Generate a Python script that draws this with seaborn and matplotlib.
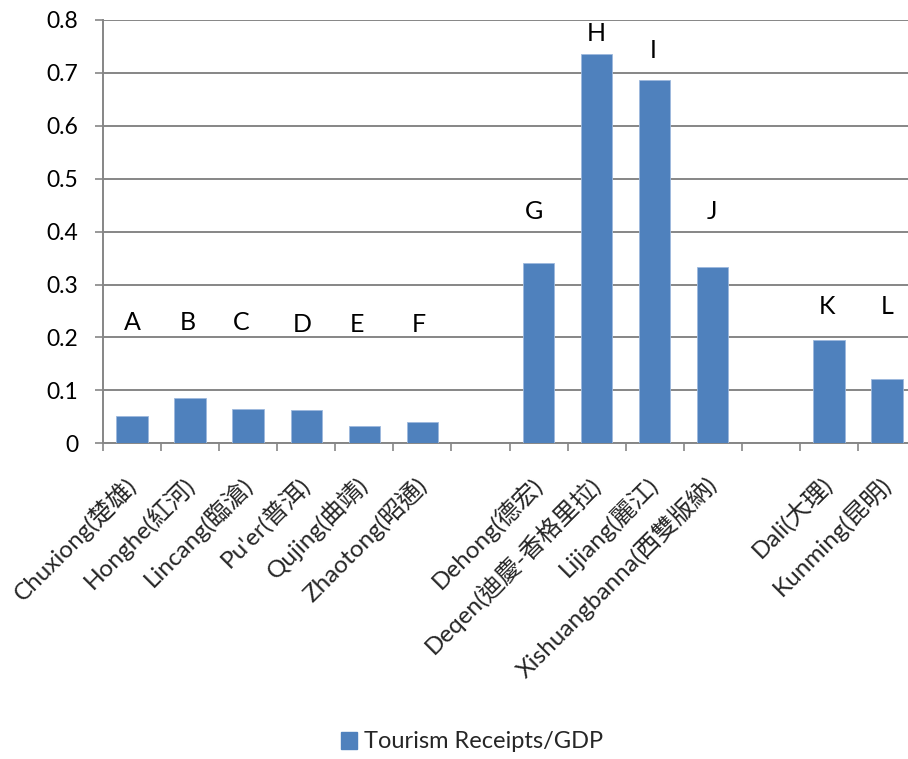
import numpy as np
import pandas as pd
import matplotlib
matplotlib.use("Agg")
import matplotlib.pyplot as plt
import seaborn as sns
from matplotlib.patches import Patch

# --- data -------------------------------------------------------------
# None marks an empty slot that separates the three groups of prefectures
cities = [
    "Chuxiong(楚雄)", "Honghe(紅河)", "Lincang(臨滄)", "Pu'er(普洱)",
    "Qujing(曲靖)", "Zhaotong(昭通)", None,
    "Dehong(德宏)", "Deqen(迪慶-香格里拉)", "Lijiang(麗江)", "Xishuangbanna(西雙版納)", None,
    "Dali(大理)", "Kunming(昆明)",
]
ratio = [0.052, 0.085, 0.065, 0.062, 0.033, 0.041, np.nan,
         0.340, 0.735, 0.687, 0.334, np.nan,
         0.196, 0.122]
letters = ["A", "B", "C", "D", "E", "F", "", "G", "H", "I", "J", "", "K", "L"]
series_name = "Tourism Receipts/GDP"
y_ticks = [0, 0.1, 0.2, 0.3, 0.4, 0.5, 0.6, 0.7, 0.8]
y_tick_labels = ["0", "0.1", "0.2", "0.3", "0.4", "0.5", "0.6", "0.7", "0.8"]

# --- layout / style -----------------------------------------------------
letter_height = [0.228, 0.228, 0.228, 0.224, 0.224, 0.224, 0,
                 0.439, 0.775, 0.742, 0.439, 0, 0.258, 0.258]
letter_shift = [0.0, -0.04, -0.12, -0.07, -0.12, -0.07, 0,
                -0.08, 0.0, -0.02, -0.02, 0, -0.04, 0.0]
BAR = "#4F81BD"
GRID = "#868686"
LATIN_CJK = ["Lato", "Noto Sans CJK TC", "DejaVu Sans"]

sns.set_theme(style="white")
plt.rcParams["font.family"] = LATIN_CJK

df = pd.DataFrame({"slot": np.arange(len(cities)), "ratio": ratio})

fig = plt.figure(figsize=(9.08, 7.59), dpi=100)
ax = fig.add_axes([103 / 908, 1 - 443.3 / 759, 813 / 908, 423.3 / 759])

sns.barplot(data=df, x="slot", y="ratio", order=list(range(len(cities))),
            color=BAR, saturation=1, width=0.54, ax=ax, zorder=3,
            edgecolor="#9DB9DD", linewidth=0.6)

ax.set_ylim(0, 0.8)
ax.set_xlim(-0.5, len(cities) - 0.5)
ax.set_xlabel("")
ax.set_ylabel("")

# horizontal gridlines
ax.set_yticks(y_ticks, y_tick_labels)
ax.yaxis.grid(True, color=GRID, linewidth=1.4)
ax.set_axisbelow(True)
ax.tick_params(axis="y", which="major", length=5.8, width=1.2, color=GRID,
               pad=12, labelsize=16.5, labelcolor="black", left=True)

# category boundaries carry the tick marks, centres carry the labels
ax.set_xticks(np.arange(-0.5, len(cities) + 0.5, 1.0))
ax.set_xticklabels([])
ax.tick_params(axis="x", which="major", length=6, width=1.2, color=GRID,
               bottom=True)
ax.set_xticks(np.arange(len(cities)), [c if c else "" for c in cities], minor=True)
ax.tick_params(axis="x", which="minor", length=0, pad=27, labelsize=17.5)
for lab in ax.get_xticklabels(minor=True):
    lab.set_rotation(45)
    lab.set_ha("right")
    lab.set_va("center")
    lab.set_rotation_mode("anchor")

for side in ("top", "right"):
    ax.spines[side].set_visible(False)
for side in ("left", "bottom"):
    ax.spines[side].set_color(GRID)
    ax.spines[side].set_linewidth(1.4)

# letter tags above the bars
for i, tag in enumerate(letters):
    if tag:
        ax.text(i + letter_shift[i], letter_height[i], tag, ha="center",
                va="center", fontsize=18, color="black", zorder=4)

fig.legend(handles=[Patch(facecolor=BAR, edgecolor=BAR, label=series_name)],
           loc="center", bbox_to_anchor=(472 / 908, 1 - 742 / 759),
           frameon=False, fontsize=17, handlelength=0.7, handleheight=0.7,
           handletextpad=0.3)

fig.savefig("out.png", dpi=100)
